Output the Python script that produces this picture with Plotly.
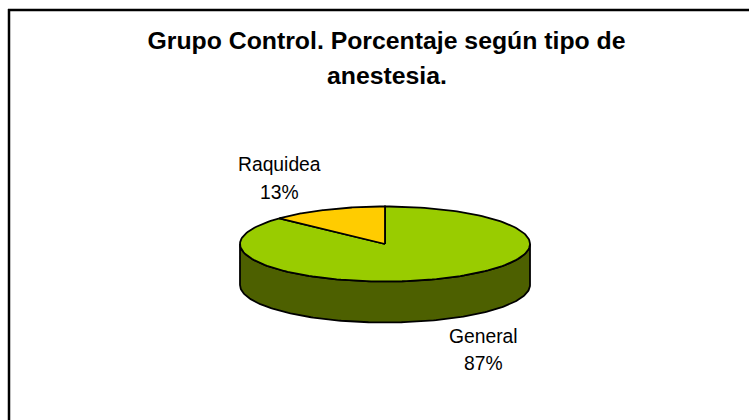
import numpy as np
import plotly.graph_objects as go

categories = ["General", "Raquidea"]
values = [87, 13]
colors = ["#99cc00", "#ffcc00"]
side_color = "#4d6000"
title_lines = ["Grupo Control. Porcentaje según tipo de", "anestesia."]

W, H = 749, 420
CX, CY, RX, RY, DEPTH = 385, 244, 145, 37.5, 41
FONT = "Liberation Sans, Arial, sans-serif"
TITLE_SIZE = 24.8
LABEL_SIZE = 19.3
EDGE = 1.8


def rim(a0, a1, dy=0, n=180):
    # angles clockwise from 12 o'clock, in degrees
    t = np.radians(np.linspace(a0, a1, n))
    return CX + RX * np.sin(t), CY + dy - RY * np.cos(t)


fig = go.Figure()

# Side wall: visible front half of the disc
x1, y1 = rim(90, 270, dy=0)
x2, y2 = rim(270, 90, dy=DEPTH)
fig.add_trace(go.Scatter(
    x=np.concatenate([x1, x2, x1[:1]]), y=np.concatenate([y1, y2, y1[:1]]),
    mode="lines", fill="toself", fillcolor=side_color,
    line=dict(color="black", width=EDGE), hoverinfo="skip", showlegend=False))

# Top slices from the values
total = sum(values)
start = 0.0
for name, val, col in zip(categories, values, colors):
    end = start + 360.0 * val / total
    ax, ay = rim(start, end)
    fig.add_trace(go.Scatter(
        x=np.concatenate([[CX], ax, [CX]]), y=np.concatenate([[CY], ay, [CY]]),
        mode="lines", fill="toself", fillcolor=col, name=name,
        line=dict(color="black", width=EDGE), showlegend=False,
        text=f"{name}: {val}%", hoverinfo="text"))
    start = end

label_pos = {"General": (483.5, 336, 363), "Raquidea": (279, 164, 192)}
annotations = [dict(x=386.5, y=75.5, text=f"<b>{title_lines[1]}</b>", showarrow=False,
                    font=dict(family=FONT, size=TITLE_SIZE, color="black"))]
for name, val in zip(categories, values):
    lx, ly1, ly2 = label_pos[name]
    annotations.append(dict(x=lx, y=ly1, text=name, showarrow=False,
                            font=dict(family=FONT, size=LABEL_SIZE, color="black")))
    annotations.append(dict(x=lx, y=ly2, text=f"{val}%", showarrow=False,
                            font=dict(family=FONT, size=LABEL_SIZE, color="black")))

fig.update_layout(
    width=W, height=H, autosize=False,
    margin=dict(l=0, r=0, t=0, b=0),
    paper_bgcolor="white", plot_bgcolor="white",
    title=dict(text=f"<b>{title_lines[0]}</b>", x=386.5 / W, xanchor="center",
               y=1 - 40.5 / H, yanchor="middle",
               font=dict(family=FONT, size=TITLE_SIZE, color="black")),
    xaxis=dict(range=[0, W], visible=False, fixedrange=True),
    yaxis=dict(range=[H, 0], visible=False, fixedrange=True),
    annotations=annotations,
    shapes=[
        dict(type="line", x0=8, x1=W + 5, y0=10, y1=10, line=dict(color="black", width=2.5)),
        dict(type="line", x0=9, x1=9, y0=9, y1=H + 5, line=dict(color="black", width=2.5)),
    ],
)

fig.write_html("out.html", config={"displayModeBar": False},
               post_script="document.body.style.margin='0';document.body.style.overflow='hidden';")
